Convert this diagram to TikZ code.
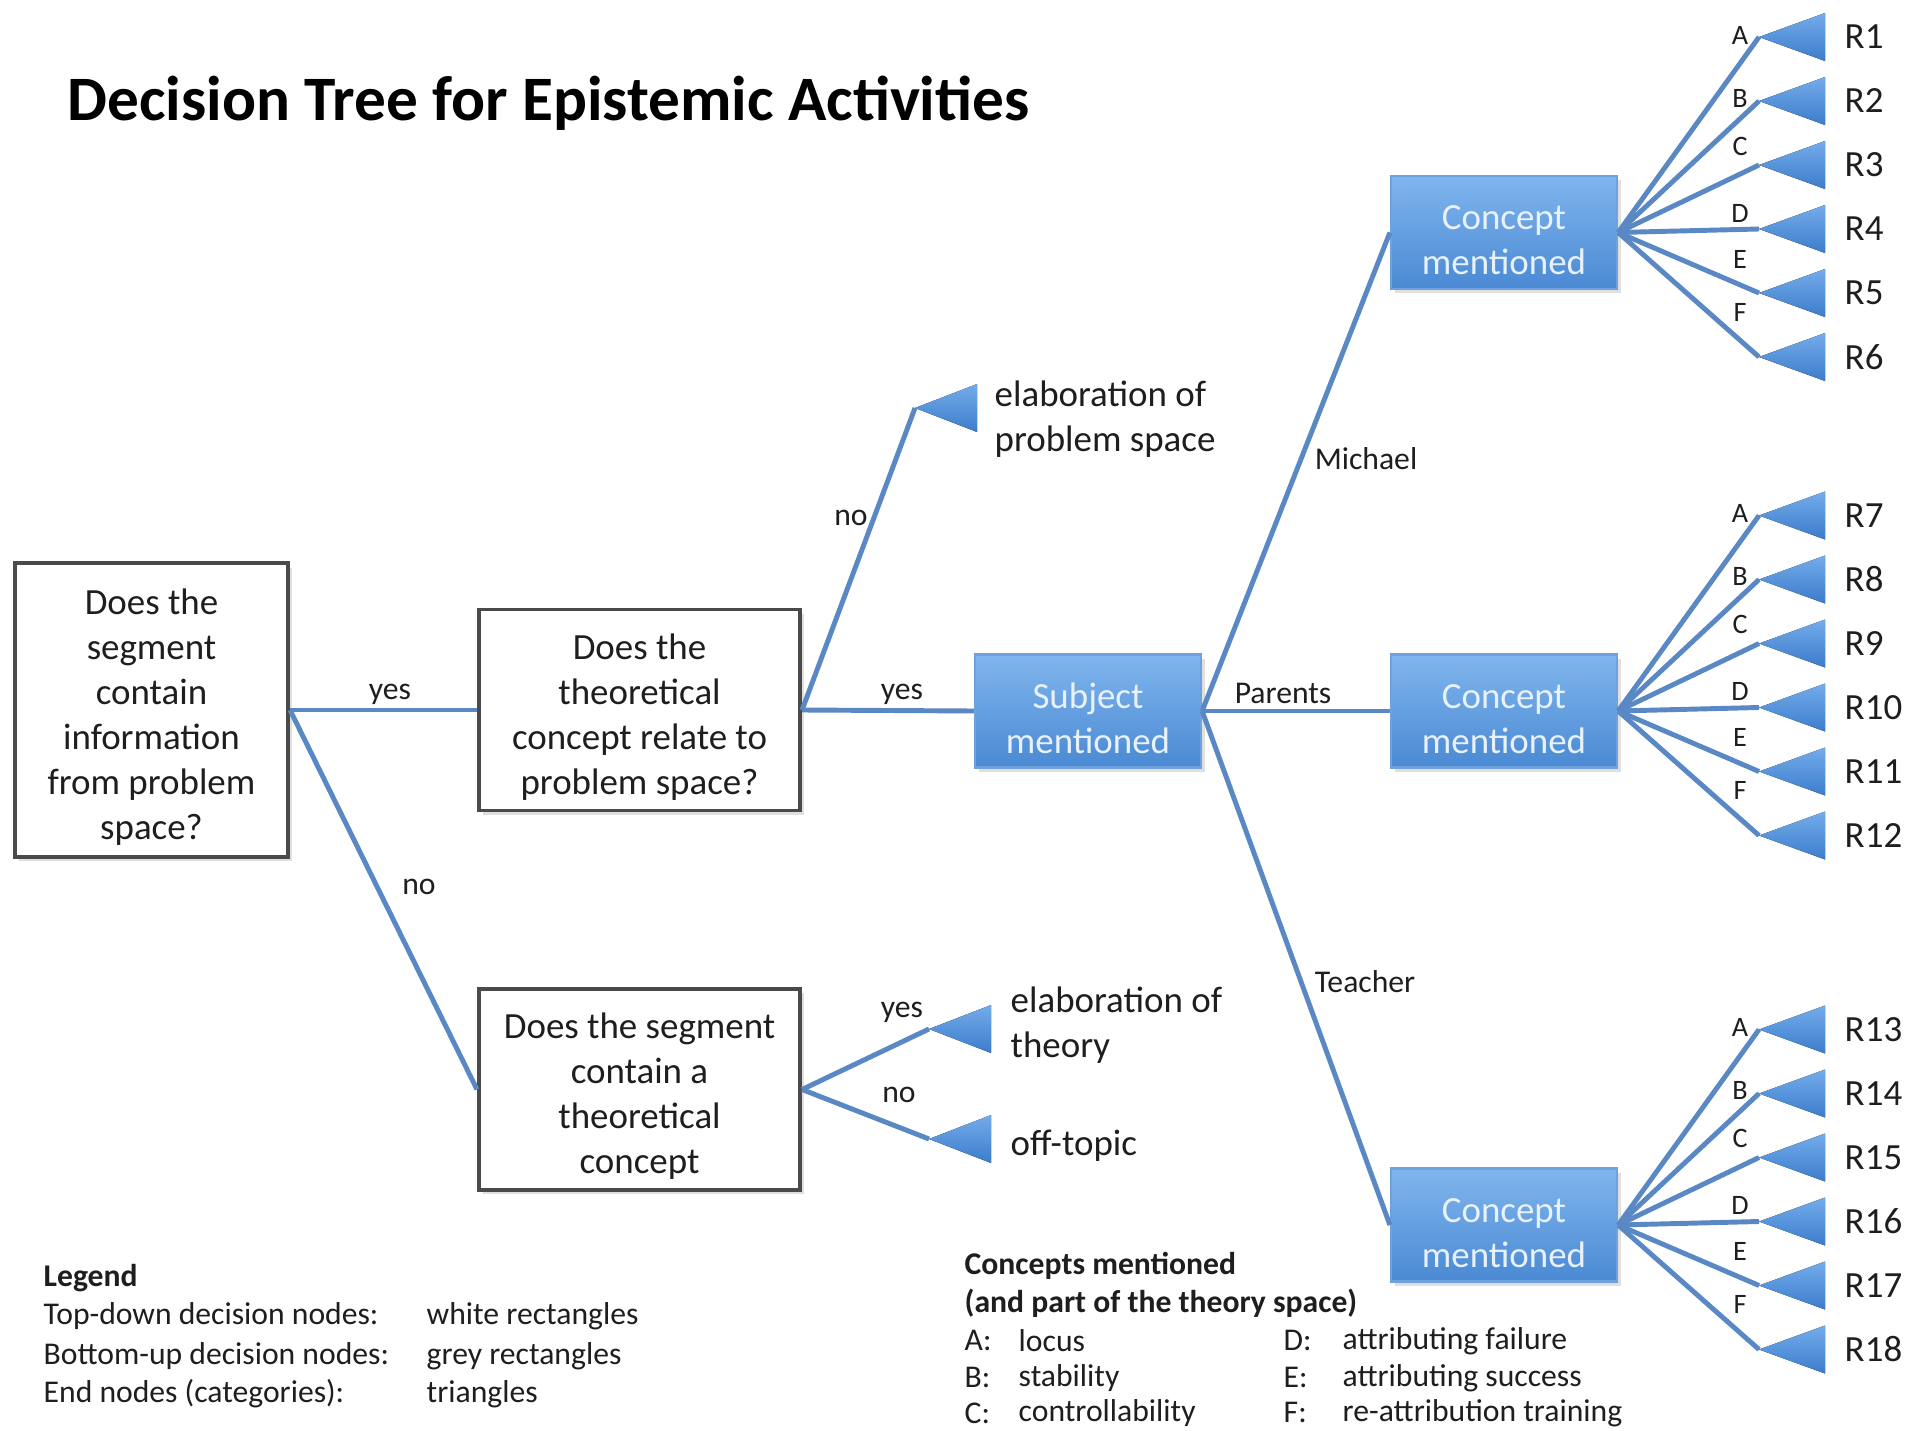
\documentclass[tikz,border=0pt]{standalone}
\usepackage{fontspec}
\setmainfont{Carlito}
\usetikzlibrary{shadows}
\definecolor{lineblue}{HTML}{5A88C4}
\definecolor{boxtop}{HTML}{80B6EE}
\definecolor{boxbot}{HTML}{4A89D3}
\definecolor{boxedge}{HTML}{6EA2DC}
\definecolor{tritop}{HTML}{74ACEB}
\definecolor{tribot}{HTML}{3B7CCB}
\definecolor{boxtext}{HTML}{E8F1FC}
\definecolor{greyborder}{HTML}{4A4A4A}
\definecolor{txt}{HTML}{1E1E1E}
\newcommand{\boxfont}{\fontsize{10.5}{12.8}\selectfont}
\newcommand{\lblfont}{\fontsize{9}{11}\selectfont}
\newcommand{\legfont}{\fontsize{9}{11}\selectfont}
\newcommand{\tp}{\rule{0pt}{11.3pt}}
\begin{document}
\begin{tikzpicture}[x=0.01cm,y=-0.01cm,
  qbox/.style={draw=greyborder, line width=1.1pt, fill=white, align=center, font=\boxfont, text=txt, inner sep=0pt,
    drop shadow={opacity=.25, shadow xshift=1.2pt, shadow yshift=-1.2pt}},
  bbox/.style={draw=boxedge, line width=0.6pt, top color=boxtop, bottom color=boxbot, align=center, font=\boxfont,
    text=boxtext, inner sep=0pt, minimum width=2.26cm, minimum height=1.13cm,
    drop shadow={opacity=.25, shadow xshift=1.2pt, shadow yshift=-1.2pt}},
  conn/.style={draw=lineblue, line width=1.4pt},
  tri/.style={top color=tritop, bottom color=tribot},
  lbl/.style={font=\lblfont, text=txt, inner sep=1pt, yshift=-1.1pt},
  endtxt/.style={font=\boxfont, text=txt, align=left, anchor=west, inner sep=0pt, yshift=-1.1pt},
  rlbl/.style={font=\fontsize{10.5}{12}\selectfont, text=txt, anchor=west, inner sep=0pt},
  letter/.style={font=\fontsize{8}{9}\selectfont, text=txt, inner sep=0pt},
  leg/.style={font=\legfont, text=txt, anchor=west, inner sep=0pt, yshift=-1.1pt},
  legb/.style={font=\legfont\bfseries, text=txt, anchor=west, inner sep=0pt, yshift=-1.1pt}
]
\useasboundingbox (0,0) rectangle (1925,1431);
\fill[white] (0,0) rectangle (1925,1431);

% title
\node[anchor=west, inner sep=0pt, font=\fontsize{18}{21}\selectfont\bfseries, text=black] (title) at (67,103)
  {Decision Tree for Epistemic Activities};

% decision boxes
\node[qbox, minimum width=2.73cm, minimum height=2.93cm] (q1) at (151.5,710)
  {\tp Does the\\segment\\contain\\information\\from problem\\space?};
\node[qbox, minimum width=3.21cm, minimum height=2.01cm] (q2) at (639.5,710)
  {\tp Does the\\theoretical\\concept relate to\\problem space?};
\node[qbox, minimum width=3.21cm, minimum height=2.01cm] (q3) at (639.5,1089.5)
  {\tp Does the segment\\contain a\\theoretical\\concept};

% blue boxes
\node[bbox] (sm) at (1088,711) {\tp Subject\\mentioned};
\node[bbox] (c1) at (1504,232.5) {\tp Concept\\mentioned};
\node[bbox] (c2) at (1504,711) {\tp Concept\\mentioned};
\node[bbox] (c3) at (1504,1225) {\tp Concept\\mentioned};

% end triangles (middle)
\coordinate (e1) at (915,408);
\coordinate (e2) at (929,1029);
\coordinate (e3) at (929,1139);
\foreach \e in {e1,e2,e3}{
  \fill[tri] (\e) -- ++(62,-24) -- ++(0,48) -- cycle;
}
\node[endtxt] (e1t) at (994,415) {elaboration of\\problem space};
\node[endtxt] (e2t) at (1010,1021) {elaboration of\\theory};
\node[endtxt] (e3t) at (1010,1142) {off-topic};

% connectors
\draw[conn] (q1.east) -- (q2.west);
\draw[conn] (q1.east) -- (q3.west);
\draw[conn] (q2.east) -- (e1);
\draw[conn] (q2.east) -- (sm.west);
\draw[conn] (q3.east) -- (e2);
\draw[conn] (q3.east) -- (e3);
\draw[conn] (sm.east) -- (c1.west);
\draw[conn] (sm.east) -- (c2.west);
\draw[conn] (sm.east) -- (c3.west);

% labels
\node[lbl] (l1) at (390,691) {yes};
\node[lbl] (l2) at (419,883) {no};
\node[lbl] (l3) at (851,514) {no};
\node[lbl] (l4) at (902,691) {yes};
\node[lbl] (l5) at (902,1009) {yes};
\node[lbl] (l6) at (899,1091) {no};
\node[lbl] (l7) at (1366,455) {Michael};
\node[lbl] (l8) at (1283,690) {Parents};
\node[lbl] (l9) at (1365,978) {Teacher};

% fans
\foreach \g/\yc in {1/232.5,2/711,3/1225}{
  \foreach \k/\L/\dy in {0/A/-2,1/B/61,2/C/109,3/D/176,4/E/222,5/F/275}{
    \pgfmathtruncatemacro\rn{6*(\g-1)+\k+1}
    \pgfmathsetmacro\ty{\yc-195.5+64*\k}
    \pgfmathsetmacro\ly{\yc-195.5+\dy}
    \coordinate (t\g\k) at (1759,\ty);
    \draw[conn] (c\g.east) -- (t\g\k);
    \fill[tri] (t\g\k) -- ++(66,-24) -- ++(0,48) -- cycle;
    \node[letter] (a\g\k) at (1740,\ly) {\L};
    \node[rlbl] (r\g\k) at (1844,\ty) {R\rn};
  }
}

% legend
\node[legb] (lg0) at (43,1274) {Legend};
\node[leg] (lg1) at (43,1312) {Top-down decision nodes:};
\node[leg] (lg2) at (43,1352) {Bottom-up decision nodes:};
\node[leg] (lg3) at (43,1390) {End nodes (categories):};
\node[leg] (lg4) at (426,1312) {white rectangles};
\node[leg] (lg5) at (426,1352) {grey rectangles};
\node[leg] (lg6) at (426,1390) {triangles};

% concepts legend
\node[legb] (cl0) at (964,1262) {Concepts mentioned};
\node[legb] (cl1) at (964,1299) {(and part of the theory space)};
\node[leg] (cla) at (964,1337) {A:};
\node[leg] (clb) at (964,1374) {B:};
\node[leg] (clc) at (964,1409) {C:};
\node[leg] (cla2) at (1018,1337) {locus};
\node[leg] (clb2) at (1018,1374) {stability};
\node[leg] (clc2) at (1018,1409) {controllability};
\node[leg] (cld) at (1283,1337) {D:};
\node[leg] (cle) at (1283,1374) {E:};
\node[leg] (clf) at (1283,1409) {F:};
\node[leg] (cld2) at (1342,1337) {attributing failure};
\node[leg] (cle2) at (1342,1374) {attributing success};
\node[leg] (clf2) at (1342,1409) {re-attribution training};
\end{tikzpicture}
\end{document}
